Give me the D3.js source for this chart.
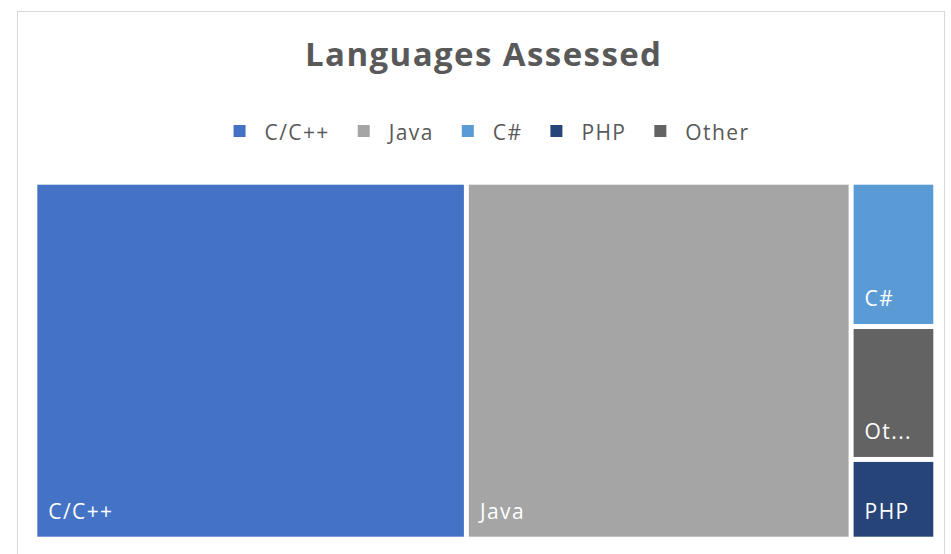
<!DOCTYPE html>
<html>
<head>
<meta charset="utf-8">
<script src="https://cdn.jsdelivr.net/npm/d3@7"></script>
<style>
  html, body { margin: 0; padding: 0; background: #ffffff; }
  svg { display: block; font-family: "Open Sans", "Noto Sans", sans-serif; }
</style>
</head>
<body>
<svg id="chart" width="951" height="554"></svg>
<script>
// ---- data ----
const categories = ["C/C++", "Java", "C#", "PHP", "Other"];
const values = [47.9, 42.7, 3.8, 2.1, 3.5];
const colors = ["#4472C4", "#A5A5A5", "#5B9BD5", "#264478", "#636363"];
const title = "Languages Assessed";

const svg = d3.select("#chart");

// chart border
svg.append("rect")
  .attr("x", 17.5).attr("y", 11.5)
  .attr("width", 927).attr("height", 580)
  .attr("fill", "#ffffff").attr("stroke", "#d9d9d9").attr("stroke-width", 1);

// title
svg.append("text")
  .attr("x", 483).attr("y", 66)
  .attr("text-anchor", "middle")
  .attr("font-size", 33).attr("font-weight", 700)
  .attr("fill", "#595959")
  .attr("textLength", 356).attr("lengthAdjust", "spacing")
  .text(title);

// legend
const labelFont = 21;
const labelSpacing = 1.4;
const legend = svg.append("g");
let lx = 0;
categories.forEach((c, i) => {
  const g = legend.append("g").attr("transform", `translate(${lx},0)`);
  g.append("rect").attr("x", 0).attr("y", -6).attr("width", 12).attr("height", 12).attr("fill", colors[i]);
  const t = g.append("text").attr("x", 31).attr("y", 8.5)
    .attr("font-size", labelFont).attr("letter-spacing", labelSpacing)
    .attr("fill", "#595959").text(c);
  const tw = t.node().getComputedTextLength();
  lx += 31 + tw + 28;
});
const legendW = lx - 28;
legend.attr("transform", `translate(${491.5 - legendW / 2},131)`);

// treemap
const color = d3.scaleOrdinal().domain(categories).range(colors);
const root = d3.hierarchy({ children: categories.map((c, i) => ({ name: c, value: values[i] })) })
  .sum(d => d.value || 0)
  .sort((a, b) => b.value - a.value);

const x0 = 37.3, y0 = 184.7, tw = 896, th = 352;
d3.treemap().size([tw, th]).paddingInner(5).tile(d3.treemapSquarify)(root);

const cells = svg.append("g").attr("transform", `translate(${x0},${y0})`)
  .selectAll("g").data(root.leaves()).join("g")
  .attr("transform", d => `translate(${d.x0},${d.y0})`);

cells.append("rect")
  .attr("width", d => d.x1 - d.x0)
  .attr("height", d => d.y1 - d.y0)
  .attr("fill", d => color(d.data.name));

cells.append("text")
  .attr("x", 11)
  .attr("y", d => d.y1 - d.y0 - 18)
  .attr("font-size", labelFont)
  .attr("letter-spacing", labelSpacing)
  .attr("fill", "#ffffff")
  .each(function (d) {
    const el = d3.select(this);
    const avail = (d.x1 - d.x0) - 30;
    let s = d.data.name;
    el.text(s);
    if (this.getComputedTextLength() > avail) {
      while (s.length > 1) {
        s = s.slice(0, -1);
        el.text(s + "...");
        if (this.getComputedTextLength() <= avail) break;
      }
    }
  });
</script>
</body>
</html>
